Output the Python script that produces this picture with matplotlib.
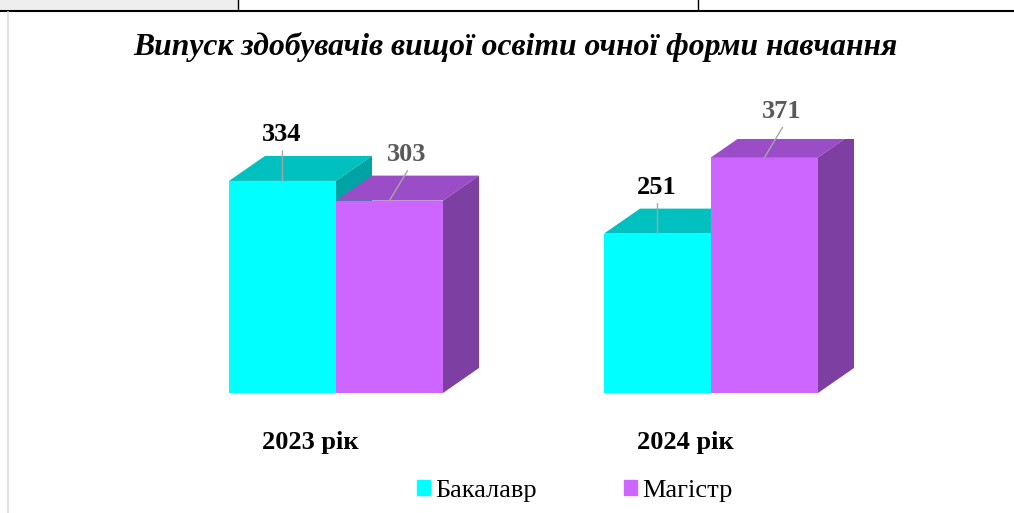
import matplotlib.pyplot as plt
from matplotlib.patches import Polygon, Rectangle

plt.rcParams['font.family'] = ['Liberation Serif', 'DejaVu Serif']

# data
years = ["2023 рік", "2024 рік"]
series = ["Бакалавр", "Магістр"]
bachelor = [334, 251]
master = [303, 371]
title = "Випуск здобувачів вищої освіти очної форми навчання"

front_colors = ["#00FFFF", "#CC66FF"]
top_colors = ["#00C0C0", "#9B4DC8"]
side_colors = ["#00A3A3", "#7E3FA2"]
label_colors = ["#000000", "#595959"]

W, H = 1014, 513
fig = plt.figure(figsize=(W / 100, H / 100), dpi=100)

# page decorations (table row above chart, chart frame)
deco = fig.add_axes([0, 0, 1, 1])
deco.set_xlim(0, W)
deco.set_ylim(H, 0)
deco.axis("off")
deco.add_patch(Rectangle((0, 0), 238, 10, color="#EEEEEE", lw=0))
deco.plot([0, W], [10.5, 10.5], color="black", lw=1.5)
deco.plot([238, 238], [0, 10], color="black", lw=1)
deco.plot([698, 698], [0, 10], color="black", lw=1)
deco.plot([7.5, 7.5], [12, H], color="#D9D9D9", lw=1.2)

# chart axes: value 0 at pixel row 393, 0.635 px per unit
px_per_unit = 0.635
ymax = 400
base_px = 393
ax_h = ymax * px_per_unit
ax = fig.add_axes([0, (H - base_px) / H, 1, ax_h / H])
group_px = [336, 711]
x_scale = group_px[1] - group_px[0]
ax.set_xlim(-group_px[0] / x_scale, (W - group_px[0]) / x_scale)
ax.set_ylim(0, ymax)
ax.axis("off")

bw = 107 / x_scale
dx = 36 / x_scale
dy = 25 / px_per_unit

values = [bachelor, master]
for g in range(len(years)):
    for s in range(len(series)):
        v = values[s][g]
        x0 = g + (s - 1) * bw
        ax.add_patch(Rectangle((x0, 0), bw, v, color=front_colors[s], lw=0))
        ax.add_patch(Polygon([(x0, v), (x0 + dx, v + dy), (x0 + bw + dx, v + dy), (x0 + bw, v)],
                             closed=True, color=top_colors[s], lw=0))
        ax.add_patch(Polygon([(x0 + bw, 0), (x0 + bw + dx, dy), (x0 + bw + dx, v + dy), (x0 + bw, v)],
                             closed=True, color=side_colors[s], lw=0))
        cx = x0 + bw / 2
        ox = 0 if s == 0 else 18
        ax.annotate("", xy=(cx, v), xytext=(ox, 30), textcoords="offset pixels",
                    arrowprops=dict(arrowstyle="-", color="#A6A6A6", lw=1, shrinkA=0, shrinkB=0),
                    annotation_clip=False)
        ax.annotate(str(v), xy=(cx, v), xytext=(ox - 1, 46), textcoords="offset pixels",
                    ha="center", va="center", fontsize=19, fontweight="bold",
                    color=label_colors[s], annotation_clip=False)
    ax.annotate(years[g], xy=(g, 0), xytext=(-26, -50), textcoords="offset pixels",
                ha="center", va="center", fontsize=19, fontweight="bold", annotation_clip=False)

fig.text(515 / W, 1 - 47 / H, title, ha="center", va="center", fontsize=22.8,
         fontweight="bold", fontstyle="italic")

# legend
handles = [Rectangle((0, 0), 1, 1, color=c) for c in front_colors]
fig.legend(handles, series, loc="center", bbox_to_anchor=(575 / W, 1 - 491 / H),
           ncol=2, frameon=False, fontsize=19, handlelength=0.5, handleheight=0.5,
           handletextpad=0.2, columnspacing=3.3, borderpad=0)

fig.savefig("out.png", dpi=100)
